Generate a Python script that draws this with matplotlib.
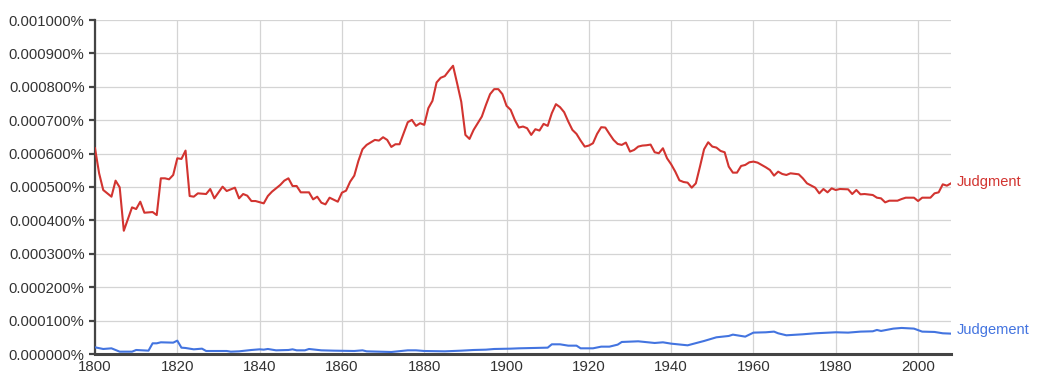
import numpy as np
import matplotlib
matplotlib.use('Agg')
import matplotlib.pyplot as plt
from matplotlib.ticker import FuncFormatter, MultipleLocator

plt.rcParams['font.family'] = ['Liberation Sans', 'DejaVu Sans']

# values in units of 0.0001 %
judgment_years = [1800, 1801, 1802, 1804, 1805, 1806, 1807, 1809, 1810, 1811,
                  1812, 1814, 1815, 1816, 1817, 1818, 1819, 1820, 1821, 1822,
                  1823, 1824, 1825, 1827, 1828, 1829, 1831, 1832, 1834, 1835,
                  1836, 1837, 1838, 1839, 1841, 1842, 1843, 1845, 1846, 1847,
                  1848, 1849, 1850, 1852, 1853, 1854, 1855, 1856, 1857, 1859,
                  1860, 1861, 1862, 1863, 1864, 1865, 1866, 1868, 1869, 1870,
                  1871, 1872, 1873, 1874, 1875, 1876, 1877, 1878, 1879, 1880,
                  1881, 1882, 1883, 1884, 1885, 1886, 1887, 1888, 1889, 1890,
                  1891, 1892, 1893, 1894, 1895, 1896, 1897, 1898, 1899, 1900,
                  1901, 1902, 1903, 1904, 1905, 1906, 1907, 1908, 1909, 1910,
                  1911, 1912, 1913, 1914, 1915, 1916, 1917, 1918, 1919, 1920,
                  1921, 1922, 1923, 1924, 1925, 1926, 1927, 1928, 1929, 1930,
                  1931, 1932, 1933, 1934, 1935, 1936, 1937, 1938, 1939, 1940,
                  1941, 1942, 1943, 1944, 1945, 1946, 1947, 1948, 1949, 1950,
                  1951, 1952, 1953, 1954, 1955, 1956, 1957, 1958, 1959, 1960,
                  1961, 1963, 1964, 1965, 1966, 1967, 1968, 1969, 1971, 1972,
                  1973, 1975, 1976, 1977, 1978, 1979, 1980, 1981, 1983, 1984,
                  1985, 1986, 1987, 1989, 1990, 1991, 1992, 1993, 1995, 1996,
                  1997, 1999, 2000, 2001, 2003, 2004, 2005, 2006, 2007, 2008]
judgment = [6.16, 5.41, 4.91, 4.71, 5.19, 4.99, 3.69, 4.39, 4.34, 4.56,
            4.23, 4.25, 4.16, 5.26, 5.26, 5.23, 5.36, 5.86, 5.84, 6.09,
            4.73, 4.71, 4.81, 4.79, 4.94, 4.66, 5.01, 4.88, 4.98, 4.66,
            4.79, 4.74, 4.58, 4.58, 4.51, 4.73, 4.86, 5.06, 5.19, 5.26,
            5.03, 5.03, 4.84, 4.84, 4.63, 4.71, 4.53, 4.48, 4.68, 4.56,
            4.83, 4.89, 5.16, 5.34, 5.78, 6.13, 6.26, 6.41, 6.39, 6.49,
            6.41, 6.20, 6.28, 6.28, 6.61, 6.94, 7.01, 6.83, 6.91, 6.86,
            7.36, 7.58, 8.13, 8.27, 8.32, 8.48, 8.63, 8.10, 7.55, 6.56,
            6.44, 6.71, 6.91, 7.11, 7.46, 7.78, 7.93, 7.93, 7.78, 7.43,
            7.31, 7.01, 6.78, 6.81, 6.76, 6.56, 6.73, 6.69, 6.89, 6.83,
            7.21, 7.48, 7.39, 7.24, 6.96, 6.71, 6.59, 6.39, 6.21, 6.24,
            6.31, 6.59, 6.79, 6.78, 6.59, 6.41, 6.29, 6.26, 6.33, 6.06,
            6.11, 6.21, 6.24, 6.25, 6.27, 6.04, 6.01, 6.16, 5.86, 5.68,
            5.46, 5.20, 5.15, 5.13, 4.98, 5.11, 5.61, 6.13, 6.34, 6.21,
            6.18, 6.08, 6.04, 5.61, 5.43, 5.43, 5.63, 5.66, 5.74, 5.76,
            5.73, 5.59, 5.51, 5.34, 5.46, 5.39, 5.36, 5.41, 5.38, 5.26,
            5.11, 4.98, 4.81, 4.94, 4.84, 4.96, 4.91, 4.94, 4.93, 4.79,
            4.91, 4.78, 4.79, 4.76, 4.68, 4.66, 4.54, 4.59, 4.59, 4.64,
            4.68, 4.68, 4.58, 4.68, 4.68, 4.81, 4.84, 5.08, 5.04, 5.11]

judgement_years = [1800, 1802, 1804, 1806, 1809, 1810, 1813, 1814, 1815, 1816,
                   1819, 1820, 1821, 1822, 1824, 1826, 1827, 1832, 1833, 1835,
                   1838, 1840, 1841, 1842, 1844, 1847, 1848, 1849, 1851, 1852,
                   1855, 1858, 1863, 1865, 1866, 1872, 1876, 1878, 1880, 1885,
                   1889, 1892, 1895, 1897, 1901, 1903, 1910, 1911, 1913, 1915,
                   1917, 1918, 1921, 1923, 1925, 1927, 1928, 1932, 1936, 1938,
                   1940, 1944, 1948, 1951, 1954, 1955, 1958, 1960, 1963, 1965,
                   1966, 1968, 1972, 1975, 1980, 1983, 1986, 1989, 1990, 1991,
                   1994, 1996, 1999, 2001, 2004, 2006, 2008]
judgement = [0.20, 0.15, 0.17, 0.07, 0.07, 0.12, 0.10, 0.32, 0.32, 0.35,
             0.34, 0.40, 0.19, 0.18, 0.14, 0.16, 0.09, 0.09, 0.07, 0.08,
             0.12, 0.14, 0.13, 0.15, 0.11, 0.12, 0.14, 0.11, 0.11, 0.15,
             0.11, 0.10, 0.09, 0.11, 0.08, 0.06, 0.11, 0.11, 0.09, 0.08,
             0.10, 0.12, 0.13, 0.15, 0.16, 0.17, 0.19, 0.29, 0.29, 0.25,
             0.25, 0.17, 0.17, 0.22, 0.22, 0.28, 0.36, 0.38, 0.33, 0.35,
             0.31, 0.26, 0.39, 0.50, 0.54, 0.58, 0.52, 0.64, 0.65, 0.67,
             0.62, 0.56, 0.59, 0.62, 0.65, 0.64, 0.67, 0.68, 0.72, 0.69,
             0.76, 0.78, 0.76, 0.67, 0.66, 0.62, 0.61]

red = '#d23430'
blue = '#4374e0'

fig = plt.figure(figsize=(10.47, 3.85), dpi=100)
ax = fig.add_axes([95/1047, 1 - 354/385, (951 - 95)/1047, (354 - 20)/385])

ax.plot(judgment_years, np.array(judgment) * 1e-4, color=red, lw=1.5, zorder=3)
ax.plot(judgement_years, np.array(judgement) * 1e-4, color=blue, lw=1.5, zorder=3)

ax.set_xlim(1800, 2008)
ax.set_ylim(0, 0.001)
ax.xaxis.set_major_locator(MultipleLocator(20))
ax.yaxis.set_major_locator(MultipleLocator(0.0001))
ax.yaxis.set_major_formatter(FuncFormatter(lambda v, p: '%.6f%%' % v))

ax.grid(True, color='#d4d4d4', lw=0.9, zorder=0)
ax.set_axisbelow(True)
for s in ['top', 'right']:
    ax.spines[s].set_visible(False)
ax.spines['left'].set_linewidth(1.6)
ax.spines['left'].set_color('#444444')
ax.spines['bottom'].set_linewidth(2.2)
ax.spines['bottom'].set_color('#444444')
ax.tick_params(axis='y', length=4, width=1.6, color='#444444', labelsize=10.6,
               labelcolor='#333333', pad=3.5)
ax.tick_params(axis='x', length=0, labelsize=10.8, labelcolor='#333333', pad=4)

ax.annotate('Judgment', (judgment_years[-1], judgment[-1] * 1e-4),
            xytext=(4, 1), textcoords='offset points', color=red, fontsize=10.5,
            va='center', ha='left', annotation_clip=False)
ax.annotate('Judgement', (judgement_years[-1], judgement[-1] * 1e-4),
            xytext=(4, 2.5), textcoords='offset points', color=blue, fontsize=10.5,
            va='center', ha='left', annotation_clip=False)

fig.savefig('out.png', dpi=100)
